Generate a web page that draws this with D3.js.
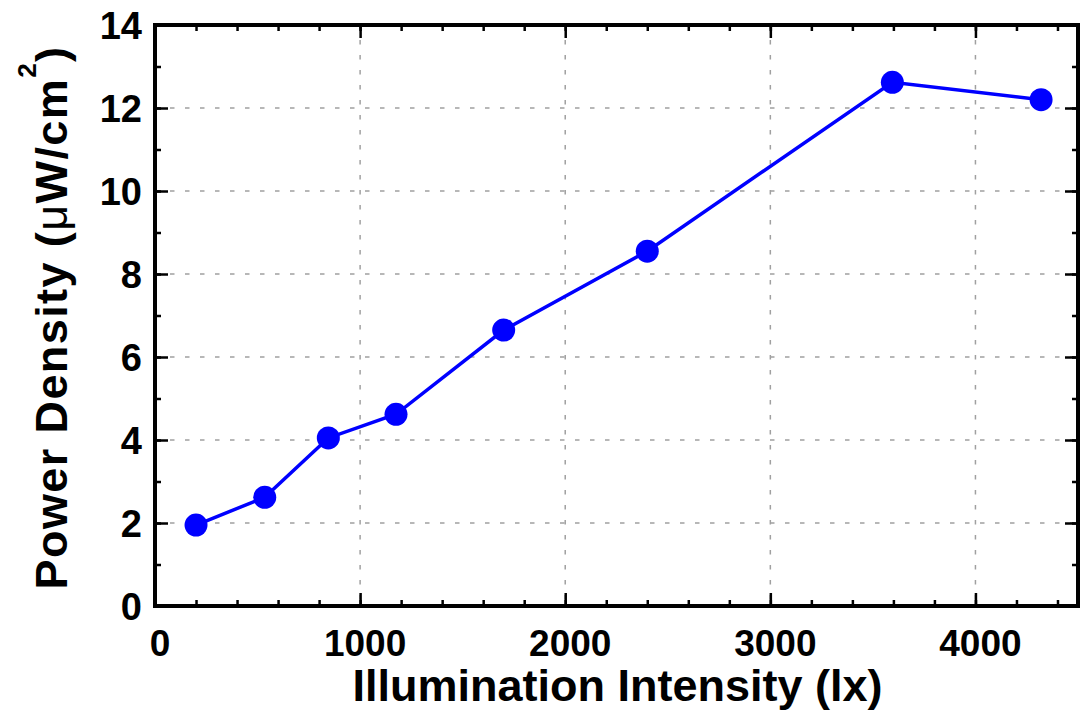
<!DOCTYPE html>
<html>
<head>
<meta charset="utf-8">
<script src="https://cdn.jsdelivr.net/npm/d3@7"></script>
<style>
  body { margin: 0; background: white; }
  text { font-family: "Liberation Sans", Arial, Helvetica, sans-serif; }
</style>
</head>
<body>
<div id="chart"></div>
<script>
// data
let illumination = [200, 535, 845, 1175, 1700, 2400, 3595, 4320];
let powerDensity = [1.95, 2.62, 4.05, 4.62, 6.65, 8.55, 12.62, 12.2];

let xTickValues = [0, 1000, 2000, 3000, 4000];
let yTickValues = [0, 2, 4, 6, 8, 10, 12, 14];
let xMinorTicks = d3.range(0, 4501, 200);
let yMinorTicks = d3.range(0, 15, 1);

let xLabel = "Illumination Intensity (lx)";

function drawChart() {
    let svgWidth = 1089;
    let svgHeight = 711;
    let marginLeft = 155;
    let marginTop = 25;
    let width = 1078 - marginLeft;
    let height = 606 - marginTop;

    let svg = d3.select("#chart")
        .append("svg")
        .attr("width", svgWidth)
        .attr("height", svgHeight)
        .append("g")
        .attr("transform", "translate(" + marginLeft + "," + marginTop + ")");

    let xScale = d3.scaleLinear().domain([0, 4500]).range([0, width]);
    let yScale = d3.scaleLinear().domain([0, 14]).range([height, 0]);

    // dashed grid
    svg.append("g")
        .selectAll("line")
        .data(xTickValues.slice(1))
        .enter().append("line")
        .attr("x1", d => xScale(d)).attr("x2", d => xScale(d))
        .attr("y1", 0).attr("y2", height)
        .style("stroke", "#a0a0a0")
        .style("stroke-width", 1.5)
        .style("stroke-dasharray", "4.5,10.5");

    svg.append("g")
        .selectAll("line")
        .data(yTickValues.slice(1, -1))
        .enter().append("line")
        .attr("x1", 0).attr("x2", width)
        .attr("y1", d => yScale(d)).attr("y2", d => yScale(d))
        .style("stroke", "#a0a0a0")
        .style("stroke-width", 1.5)
        .style("stroke-dasharray", "4.5,10.5");

    // ticks on all four sides, pointing in
    function tickAxis(axis, size, values, transform) {
        let g = svg.append("g")
            .attr("transform", transform)
            .call(axis.tickValues(values).tickSize(size).tickFormat(""));
        g.select(".domain").remove();
        g.selectAll("line").style("stroke", "black").style("stroke-width", 2.5);
        return g;
    }

    tickAxis(d3.axisBottom(xScale), -13, xTickValues, "translate(0," + height + ")");
    tickAxis(d3.axisBottom(xScale), -6, xMinorTicks, "translate(0," + height + ")");
    tickAxis(d3.axisTop(xScale), -13, xTickValues, "translate(0,0)");
    tickAxis(d3.axisTop(xScale), -6, xMinorTicks, "translate(0,0)");
    tickAxis(d3.axisLeft(yScale), -13, yTickValues, "translate(0,0)");
    tickAxis(d3.axisLeft(yScale), -6, yMinorTicks, "translate(0,0)");
    tickAxis(d3.axisRight(yScale), -13, yTickValues, "translate(" + width + ",0)");
    tickAxis(d3.axisRight(yScale), -6, yMinorTicks, "translate(" + width + ",0)");

    // tick labels
    svg.append("g")
        .selectAll("text")
        .data(xTickValues)
        .enter().append("text")
        .attr("x", d => xScale(d) + 5)
        .attr("y", height + 50)
        .attr("text-anchor", "middle")
        .style("font-size", "37px")
        .style("font-weight", "bold")
        .text(d => d);

    svg.append("g")
        .selectAll("text")
        .data(yTickValues)
        .enter().append("text")
        .attr("x", -13)
        .attr("y", d => yScale(d))
        .attr("dy", "0.36em")
        .attr("text-anchor", "end")
        .style("font-size", "38px")
        .style("font-weight", "bold")
        .text(d => d);

    // frame
    svg.append("rect")
        .attr("x", 0).attr("y", 0)
        .attr("width", width).attr("height", height)
        .style("fill", "none")
        .style("stroke", "black")
        .style("stroke-width", 4);

    // line and points
    let points = illumination.map((d, i) => ({ x: d, y: powerDensity[i] }));

    let line = d3.line()
        .x(d => xScale(d.x))
        .y(d => yScale(d.y));

    svg.append("path")
        .datum(points)
        .attr("d", line)
        .style("fill", "none")
        .style("stroke", "#0000ff")
        .style("stroke-width", 3.5);

    svg.append("g")
        .selectAll("circle")
        .data(points)
        .enter().append("circle")
        .attr("cx", d => xScale(d.x))
        .attr("cy", d => yScale(d.y))
        .attr("r", 11.5)
        .style("fill", "#0000ff");

    // X AXIS LABEL
    svg.append("text")
        .attr("x", width / 2 + 1)
        .attr("y", height + 95)
        .attr("text-anchor", "middle")
        .style("font-size", "45px")
        .style("font-weight", "bold")
        .text(xLabel);

    // Y AXIS LABEL
    let yTitle = svg.append("text")
        .attr("transform", "translate(" + (67 - marginLeft) + "," + (height / 2 + 2) + ") rotate(-90)")
        .attr("text-anchor", "middle")
        .style("font-size", "45px")
        .style("font-weight", "bold")
        .style("letter-spacing", "1.4px");
    yTitle.append("tspan").text("Power Density (");
    yTitle.append("tspan").style("font-weight", "normal").text("\u03bc");
    yTitle.append("tspan").text("W/cm");
    yTitle.append("tspan").attr("dy", -31).style("font-size", "26px").text("2");
    yTitle.append("tspan").attr("dy", 31).text(")");
}

window.onload = () => {
    drawChart();
}
</script>
</body>
</html>
